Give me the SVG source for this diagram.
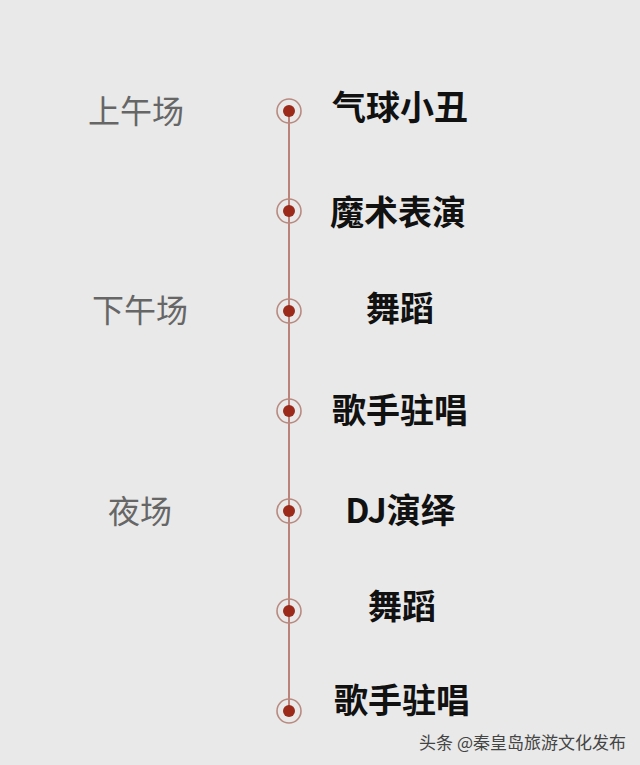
<svg xmlns="http://www.w3.org/2000/svg" width="640" height="765" viewBox="0 0 640 765">
<style>
.ring{fill:none;stroke:#b88a80;stroke-width:1.6}
.dot{fill:#9b2a1a}
.item{font-family:"Noto Sans CJK SC",sans-serif;font-weight:bold;font-size:34px;fill:#111;text-anchor:middle}
.sess{font-family:"Noto Sans CJK SC",sans-serif;font-size:32px;fill:#666;text-anchor:middle}
</style>
<rect width="640" height="765" fill="#e9e9e9"/>
<g id="connectors"><line x1="289" y1="111" x2="289" y2="711" stroke="#b5776c" stroke-width="1.8"/></g>
<g id="sessions">
<text class="sess" x="136" y="123">上午场</text>
<text class="sess" x="140" y="322">下午场</text>
<text class="sess" x="140" y="523">夜场</text>
</g>
<g id="n1"><circle class="ring" cx="289" cy="111" r="12"/><circle class="dot" cx="289" cy="111" r="6"/><text class="item" x="400" y="120">气球小丑</text></g>
<g id="n2"><circle class="ring" cx="289" cy="211" r="12"/><circle class="dot" cx="289" cy="211" r="6"/><text class="item" x="398" y="225">魔术表演</text></g>
<g id="n3"><circle class="ring" cx="289" cy="311" r="12"/><circle class="dot" cx="289" cy="311" r="6"/><text class="item" x="400" y="321">舞蹈</text></g>
<g id="n4"><circle class="ring" cx="289" cy="411" r="12"/><circle class="dot" cx="289" cy="411" r="6"/><text class="item" x="400" y="423">歌手驻唱</text></g>
<g id="n5"><circle class="ring" cx="289" cy="511" r="12"/><circle class="dot" cx="289" cy="511" r="6"/><text class="item" x="400" y="523">DJ演绎</text></g>
<g id="n6"><circle class="ring" cx="289" cy="611" r="12"/><circle class="dot" cx="289" cy="611" r="6"/><text class="item" x="402" y="619">舞蹈</text></g>
<g id="n7"><circle class="ring" cx="289" cy="711" r="12"/><circle class="dot" cx="289" cy="711" r="6"/><text class="item" x="402" y="713">歌手驻唱</text></g>
<text x="626" y="749" font-family="Noto Sans CJK SC,sans-serif" font-size="17" fill="#444" text-anchor="end">头条 @秦皇岛旅游文化发布</text>
</svg>
